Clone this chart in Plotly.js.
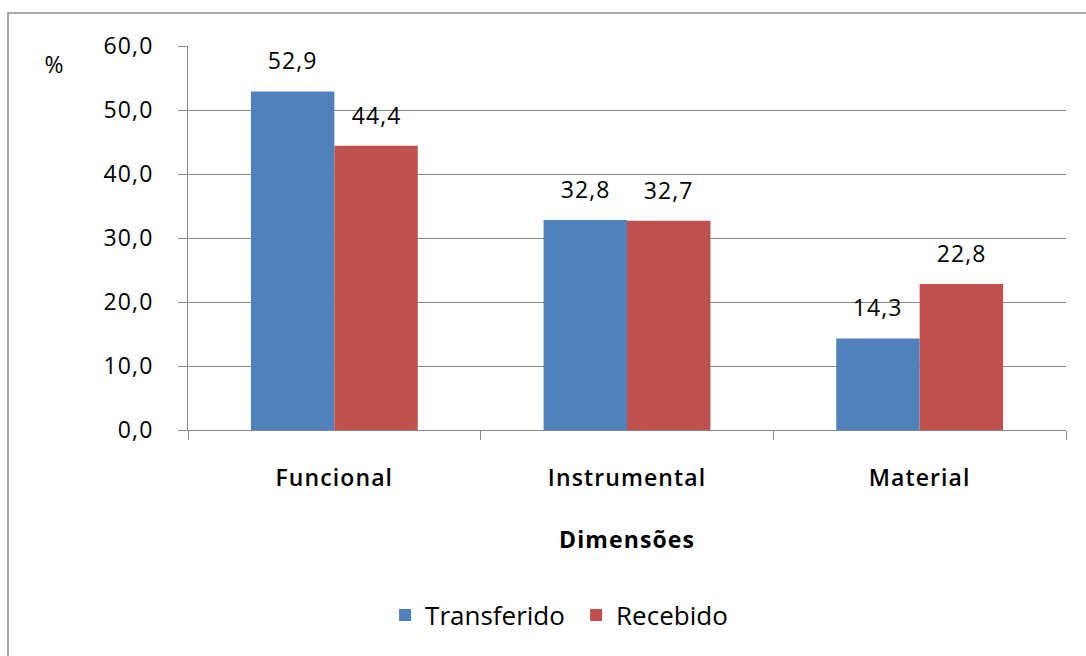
<!DOCTYPE html>
<html>
<head>
<meta charset="utf-8">
<script src="https://cdn.plot.ly/plotly-3.0.1.min.js"></script>
<style>
html,body{margin:0;padding:0;background:#fff;}
#chart{width:1086px;height:656px;}
#chart text{letter-spacing:1.1px;}
#chart .legend text{letter-spacing:0;}
</style>
</head>
<body>
<div id="chart"></div>
<script>
const categories = ["Funcional", "Instrumental", "Material"];
const transferido = [52.9, 32.8, 14.3];
const recebido = [44.4, 32.7, 22.8];
const seriesNames = ["Transferido", "Recebido"];
const yTickVals = [0, 10, 20, 30, 40, 50, 60];
const yTickText = ["0,0", "10,0", "20,0", "30,0", "40,0", "50,0", "60,0"];
const xTitle = "Dimensões";
const yTitle = "%";

const FONT = "'Open Sans', 'DejaVu Sans', sans-serif";
const FS = 23;
const BLUE = "#4F81BD", RED = "#C0504D", GRID = "#878787";
const bargap = 0.43;

const fmt = v => v.toFixed(1).replace(".", ",");

const traces = [
  {type: "bar", name: seriesNames[0], x: categories, y: transferido,
   marker: {color: BLUE}, hoverinfo: "none"},
  {type: "bar", name: seriesNames[1], x: categories, y: recebido,
   marker: {color: RED}, hoverinfo: "none"}
];

const half = (1 - bargap) / 4;
const annotations = [];
[transferido, recebido].forEach((arr, s) => {
  arr.forEach((v, i) => {
    annotations.push({
      x: i + (s === 0 ? -half : half), y: v, xref: "x", yref: "y",
      text: fmt(v), showarrow: false, yanchor: "bottom", yshift: 13,
      font: {family: FONT, size: FS, color: "#000"}
    });
  });
});
annotations.push({
  xref: "paper", yref: "paper", x: 0.5, y: -0.284, xanchor: "center", yanchor: "middle",
  text: "<b>" + xTitle + "</b>", showarrow: false,
  font: {family: FONT, size: FS, color: "#000"}
});
annotations.push({
  xref: "paper", yref: "paper", x: -0.152, y: 0.952, xanchor: "center", yanchor: "middle",
  text: yTitle, showarrow: false,
  font: {family: FONT, size: FS, color: "#000"}
});

const layout = {
  width: 1086, height: 656,
  margin: {l: 188, r: 20, t: 46, b: 226},
  paper_bgcolor: "#fff", plot_bgcolor: "#fff",
  barmode: "group", bargap: bargap, bargroupgap: 0,
  font: {family: FONT, size: FS, color: "#000"},
  xaxis: {
    type: "category", showgrid: false, showline: true, linecolor: GRID, linewidth: 1,
    ticks: "outside", ticklen: 9, tickcolor: GRID, tickson: "boundaries",
    ticklabelstandoff: 27,
    tickfont: {family: FONT, size: FS, color: "#000", weight: 600},
    zeroline: false, fixedrange: true
  },
  yaxis: {
    range: [0, 60], tickvals: yTickVals, ticktext: yTickText,
    showgrid: true, gridcolor: GRID, gridwidth: 1,
    showline: true, linecolor: GRID, linewidth: 1,
    ticks: "outside", ticklen: 9, tickcolor: GRID, ticklabelstandoff: 20,
    tickfont: {family: FONT, size: FS, color: "#000"},
    zeroline: false, fixedrange: true
  },
  showlegend: true,
  legend: {
    orientation: "h", x: 0.442, xanchor: "center", y: -0.482, yanchor: "middle",
    font: {family: FONT, size: 26, color: "#000"},
    itemwidth: 30, entrywidth: 146, traceorder: "normal", bgcolor: "rgba(0,0,0,0)"
  },
  annotations: annotations,
  shapes: [{
    type: "rect", xref: "paper", yref: "paper", layer: "below",
    x0: (8 - 188) / 878, x1: (1100 - 188) / 878,
    y0: (430 - 670) / 384, y1: (430 - 13) / 384,
    line: {color: "#8c8c8c", width: 1.5}, fillcolor: "rgba(0,0,0,0)"
  }]
};

Plotly.newPlot("chart", traces, layout, {displayModeBar: false, staticPlot: true});
</script>
</body>
</html>
